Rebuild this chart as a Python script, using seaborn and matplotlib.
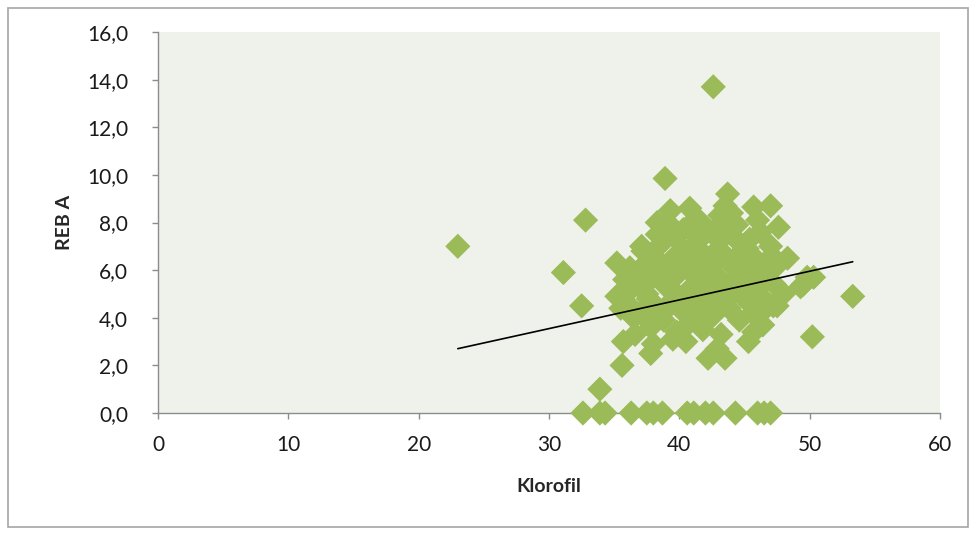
import numpy as np
import pandas as pd
import matplotlib
matplotlib.use("Agg")
import matplotlib.pyplot as plt
import seaborn as sns
from matplotlib.patches import Rectangle
from matplotlib.ticker import FuncFormatter

# Data (Klorofil vs REB A)
klorofil = [
    23.0, 42.6, 31.1, 32.8, 32.5, 35.2, 33.9, 35.6, 38.9, 53.3, 50.2,
    39.3, 40.8, 43.7, 43.5, 45.7, 47.0, 47.6, 48.3, 38.3, 40.6, 43.3, 37.2,
    49.8, 50.3, 49.5, 35.7, 37.8, 42.2, 43.5, 45.7, 47.2, 39.5, 36.5, 35.2,
    36.0, 36.3, 36.8, 37.0, 37.3, 37.5, 37.8, 38.0, 38.2, 38.4, 38.6, 38.8,
    39.0, 39.2, 39.4, 39.6, 39.8, 40.0, 40.2, 40.4, 40.6, 40.8, 41.0, 41.2,
    41.4, 41.6, 41.8, 42.0, 42.2, 42.4, 42.6, 42.8, 43.0, 43.2, 43.4, 43.6,
    43.8, 44.0, 44.2, 44.4, 44.6, 44.8, 45.0, 45.2, 45.4, 45.6, 45.8, 46.0,
    46.2, 46.4, 46.6, 46.8, 47.0, 47.3,
    36.6, 37.1, 38.0, 39.1, 40.5, 41.5, 42.9, 44.0, 45.3, 46.0, 47.5, 48.0,
    35.8, 35.5, 39.7, 41.1, 42.5, 43.9, 45.5, 40.3, 43.1, 38.5,
    49.3, 47.5, 46.0,
    36.9, 37.6, 38.3, 39.0, 39.9, 40.7, 41.3, 41.9, 42.7, 43.3, 44.1, 44.7,
    45.1, 45.9, 46.5, 37.4, 38.1, 38.9, 39.6, 40.1, 41.0, 41.7, 42.3, 43.0,
    43.7, 44.5, 45.2, 46.1, 36.2, 47.1,
    32.6, 33.9, 34.3, 36.3, 37.5, 38.0, 38.7, 40.6, 41.1, 42.0, 42.6, 44.3,
    46.0, 46.5, 47.0,
]
reb_a = [
    7.0, 13.7, 5.9, 8.1, 4.5, 6.3, 1.0, 2.0, 9.85, 4.9, 3.2,
    8.5, 8.6, 9.2, 8.7, 8.65, 8.7, 7.8, 6.5, 8.0, 7.8, 8.0, 6.8,
    5.7, 5.7, 5.4, 3.0, 2.5, 2.3, 2.3, 3.4, 4.5, 3.1, 4.0, 4.9,
    4.6, 5.2, 5.6, 4.2, 6.2, 5.0, 3.6, 6.6, 4.5, 5.8, 7.1, 3.9,
    5.3, 6.3, 4.7, 7.4, 3.4, 5.9, 4.3, 6.8, 5.1, 3.8, 6.2, 4.6,
    7.2, 5.5, 3.5, 6.6, 4.9, 7.6, 4.1, 5.8, 6.9, 3.3, 5.2, 7.5,
    4.4, 6.2, 5.6, 7.9, 3.9, 6.8, 4.8, 5.9, 7.3, 4.2, 6.5, 5.2,
    7.6, 3.7, 6.0, 4.6, 7.0, 5.4,
    3.3, 7.0, 2.9, 8.0, 3.0, 8.1, 2.7, 8.4, 3.0, 8.1, 6.2, 5.0,
    5.6, 4.4, 6.6, 5.0, 5.4, 4.9, 5.5, 7.7, 8.3, 4.0,
    5.3, 4.5, 4.95,
    6.0, 4.8, 7.5, 5.7, 4.5, 6.0, 3.9, 5.1, 6.3, 4.6, 5.3, 7.1,
    6.2, 4.9, 5.6, 5.4, 6.1, 4.3, 5.1, 6.4, 7.0, 4.2, 6.0, 4.5,
    6.5, 5.2, 6.9, 4.1, 6.1, 6.6,
    0.0, 0.0, 0.0, 0.0, 0.0, 0.0, 0.0, 0.0, 0.0, 0.0, 0.0, 0.0,
    0.0, 0.0, 0.0,
]

# Linear trend line coefficients
trend_slope = 0.1205
trend_intercept = -0.07

x_ticks = [0, 10, 20, 30, 40, 50, 60]
y_ticks = [0, 2, 4, 6, 8, 10, 12, 14, 16]

df = pd.DataFrame({"Klorofil": klorofil, "REB A": reb_a})

sns.set_style("white")
plt.rcParams['font.family'] = ['Lato', 'DejaVu Sans']

fig = plt.figure(figsize=(9.78, 5.34), dpi=100)
ax = fig.add_axes([0.1616, 0.2266, 0.7996, 0.7134])

# outer chart border
fig.patches.append(Rectangle((8 / 978, 7 / 534), 960 / 978, 519 / 534,
                             transform=fig.transFigure, fill=False,
                             edgecolor="#a6a6a6", linewidth=1.2))

ax.set_facecolor("#eff2ea")

sns.scatterplot(data=df, x="Klorofil", y="REB A", marker="D", s=165,
                color="#9bbb59", edgecolor="none", linewidth=0, ax=ax,
                zorder=3, clip_on=False)

xs = np.array([min(klorofil), max(klorofil)])
ax.plot(xs, trend_slope * xs + trend_intercept, color="black", linewidth=1.2, zorder=4)

ax.set_xlim(0, 60)
ax.set_ylim(0, 16)
ax.set_xticks(x_ticks)
ax.set_yticks(y_ticks)
ax.yaxis.set_major_formatter(FuncFormatter(lambda v, p: f"{v:.1f}".replace(".", ",")))

for side in ["top", "right"]:
    ax.spines[side].set_visible(False)
for side in ["left", "bottom"]:
    ax.spines[side].set_color("#8c8c8c")
    ax.spines[side].set_linewidth(1.0)
    ax.spines[side].set_zorder(2)

ax.tick_params(axis="both", direction="out", length=4.5, width=1, color="#8c8c8c",
               labelsize=15, labelcolor="#1a1a1a", left=True, bottom=True)
ax.tick_params(axis="x", pad=11)
ax.tick_params(axis="y", pad=17)

ax.set_xlabel("Klorofil", fontsize=14, fontweight="bold", labelpad=17)
ax.set_ylabel("REB A", fontsize=14, fontweight="bold", labelpad=10)

fig.savefig("out.png", dpi=100, facecolor="white")
